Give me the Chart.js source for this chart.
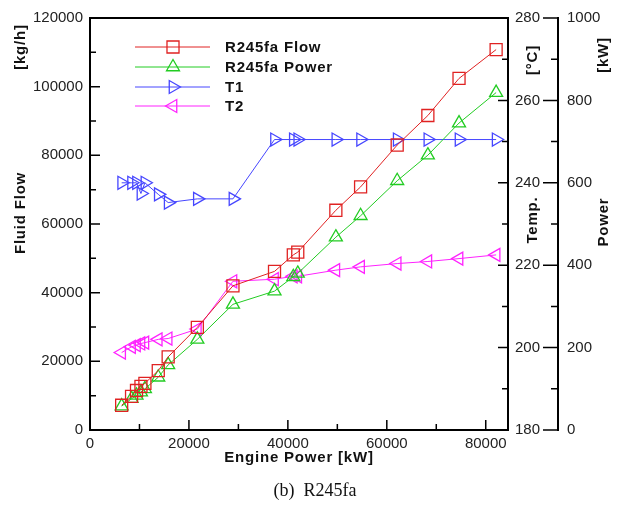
<!DOCTYPE html>
<html>
<head>
<meta charset="utf-8">
<script src="https://cdn.jsdelivr.net/npm/chart.js@4.4.1/dist/chart.umd.min.js"></script>
<style>
  html, body { margin: 0; padding: 0; background: #fff; }
  #wrap { width: 624px; height: 508px; position: relative; }
</style>
</head>
<body>
<div id="wrap"><canvas id="c"></canvas></div>
<script>
const SANS = "'Liberation Sans', Arial, sans-serif";
const SERIF = "'Liberation Serif', 'Times New Roman', serif";

// engine power [kW], shared by all four series
const enginePower = [6400, 8400, 9400, 10300, 11100, 13800, 15800, 21700, 28900, 37300, 41100, 42000, 49700, 54700, 62100, 68300, 74600, 82100];
const r245Flow = [7200, 9800, 11500, 12700, 13600, 17300, 21300, 29900, 42000, 46200, 51000, 51800, 64000, 70800, 83000, 91600, 102400, 110800];
const r245Power = [58, 76, 84, 92, 100, 128, 158, 220, 305, 337, 372, 380, 468, 520, 605, 667, 745, 819];
const t1 = [240, 240, 240, 237.4, 240, 237.2, 235.2, 236.1, 236.1, 250.5, 250.5, 250.5, 250.5, 250.5, 250.5, 250.5, 250.5, 250.5];
const t2 = [198.8, 200.2, 200.6, 201, 201.2, 202, 202.2, 204.5, 216.1, 216.6, 217.3, 217.3, 218.8, 219.6, 220.4, 220.9, 221.6, 222.5];

const xTicks = [0, 20000, 40000, 60000, 80000];
const flowTicks = [0, 20000, 40000, 60000, 80000, 100000, 120000];
const tempTicks = [180, 200, 220, 240, 260, 280];
const powerTicks = [0, 200, 400, 600, 800, 1000];

const COLORS = { flow: '#e02222', power: '#22cc22', t1: '#4646ff', t2: '#ff22ff' };

const pts = (ys) => enginePower.map((x, i) => ({ x, y: ys[i] }));

const series = [
  { label: 'R245fa Flow', data: r245Flow, color: COLORS.flow, style: 'rect', rot: 0, r: 8.5, axis: 'y' },
  { label: 'R245fa Power', data: r245Power, color: COLORS.power, style: 'triangle', rot: 0, r: 7.5, axis: 'y2' },
  { label: 'T1', data: t1, color: COLORS.t1, style: 'triangle', rot: 90, r: 7.5, axis: 'y1' },
  { label: 'T2', data: t2, color: COLORS.t2, style: 'triangle', rot: 270, r: 7.5, axis: 'y1' },
];

const setTicks = (list) => (s) => { s.ticks = list.map((v) => ({ value: v })); };

function range(a, b, step) {
  const out = [];
  for (let v = a; v <= b + 1e-9; v += step) out.push(v);
  return out;
}

const deco = {
  id: 'deco',
  afterDraw(chart) {
    const { ctx, chartArea: a, scales } = chart;
    ctx.save();
    ctx.strokeStyle = '#000';
    ctx.lineWidth = 2;
    ctx.beginPath();
    ctx.moveTo(a.left - 1, a.top);
    ctx.lineTo(a.right + 1, a.top);
    ctx.stroke();

    ctx.lineWidth = 1.5;
    ctx.beginPath();
    // bottom axis, inward
    range(0, 80000, 10000).forEach((v) => {
      const px = scales.x.getPixelForValue(v);
      const len = v % 20000 === 0 ? 10 : 6;
      ctx.moveTo(px, a.bottom);
      ctx.lineTo(px, a.bottom - len);
    });
    // left axis, inward
    range(0, 120000, 10000).forEach((v) => {
      const py = scales.y.getPixelForValue(v);
      const len = v % 20000 === 0 ? 10 : 6;
      ctx.moveTo(a.left, py);
      ctx.lineTo(a.left + len, py);
    });
    // temp axis, inward
    range(180, 280, 10).forEach((v) => {
      const py = scales.y1.getPixelForValue(v);
      const len = v % 20 === 0 ? 10 : 6;
      ctx.moveTo(a.right, py);
      ctx.lineTo(a.right - len, py);
    });
    // power axis, pointing left
    const x2 = scales.y2.left;
    range(0, 1000, 100).forEach((v) => {
      const py = scales.y2.getPixelForValue(v);
      const len = v % 200 === 0 ? 15 : 7;
      ctx.moveTo(x2, py);
      ctx.lineTo(x2 - len, py);
    });
    ctx.stroke();

    const bold = `bold 15px ${SANS}`;
    ctx.letterSpacing = '0.8px';

    // legend
    const rows = [47, 67, 87, 106];
    series.forEach((s, i) => {
      const y = rows[i];
      ctx.strokeStyle = s.color;
      ctx.lineWidth = 1;
      ctx.beginPath();
      ctx.moveTo(135, y);
      ctx.lineTo(210, y);
      ctx.stroke();
      ctx.lineWidth = 1.3;
      ctx.fillStyle = 'rgba(0,0,0,0)';
      Chart.helpers.drawPoint(ctx, { pointStyle: s.style, radius: s.r, rotation: s.rot, borderWidth: 1.3 }, 173, y);
      ctx.fillStyle = '#111';
      ctx.font = bold;
      ctx.textAlign = 'left';
      ctx.textBaseline = 'middle';
      ctx.fillText(s.label, 225, y + 1);
    });

    // axis titles
    const vtext = (txt, x, y) => {
      ctx.save();
      ctx.translate(x, y);
      ctx.rotate(-Math.PI / 2);
      ctx.font = bold;
      ctx.fillStyle = '#111';
      ctx.textAlign = 'center';
      ctx.textBaseline = 'middle';
      ctx.fillText(txt, 0, 0);
      ctx.restore();
    };
    vtext('Fluid Flow', 21, 213);
    vtext('[kg/h]', 21, 47);
    vtext('Temp.', 533, 220);
    vtext('[°C]', 533, 60);
    vtext('Power', 604, 222);
    vtext('[kW]', 604, 55);

    ctx.fillStyle = '#111';
    ctx.textAlign = 'center';
    ctx.textBaseline = 'middle';
    ctx.font = bold;
    ctx.fillText('Engine Power [kW]', (a.left + a.right) / 2, 458);
    ctx.letterSpacing = '0px';
    ctx.font = `18px ${SERIF}`;
    ctx.fillText('(b)  R245fa', 315, 491);
    ctx.restore();
  },
};

const tickFont = { family: SANS, size: 15 };

new Chart(document.getElementById('c'), {
  type: 'line',
  data: {
    datasets: series.map((s) => ({
      label: s.label,
      data: pts(s.data),
      yAxisID: s.axis,
      borderColor: s.color,
      backgroundColor: 'rgba(0,0,0,0)',
      borderWidth: 1,
      tension: 0,
      pointStyle: s.style,
      pointRotation: s.rot,
      pointRadius: s.r,
      pointBorderWidth: 1.3,
      pointBorderColor: s.color,
      pointBackgroundColor: 'rgba(0,0,0,0)',
      clip: false,
    })),
  },
  options: {
    responsive: true,
    maintainAspectRatio: false,
    animation: false,
    layout: { padding: { top: 13, left: 0, right: 0, bottom: 0 } },
    plugins: { legend: { display: false }, tooltip: { enabled: false } },
    scales: {
      x: {
        type: 'linear',
        position: 'bottom',
        min: 0,
        max: 84500,
        afterBuildTicks: setTicks(xTicks),
        afterFit: (s) => { s.height = 78; },
        grid: { display: false, drawTicks: false },
        border: { display: true, color: '#000', width: 2 },
        ticks: { font: tickFont, color: '#222', padding: 5, maxRotation: 0, callback: (v) => String(v) },
      },
      y: {
        position: 'left',
        min: 0,
        max: 120000,
        afterBuildTicks: setTicks(flowTicks),
        afterFit: (s) => { s.width = 90; },
        grid: { display: false, drawTicks: false },
        border: { display: true, color: '#000', width: 2 },
        ticks: { font: tickFont, color: '#222', padding: 7, callback: (v) => String(v) },
      },
      y1: {
        position: 'right',
        weight: 0,
        min: 180,
        max: 280,
        afterBuildTicks: setTicks(tempTicks),
        afterFit: (s) => { s.width = 50; },
        grid: { display: false, drawTicks: false },
        border: { display: true, color: '#000', width: 2 },
        ticks: { font: tickFont, color: '#222', padding: 7, callback: (v) => String(v) },
      },
      y2: {
        position: 'right',
        weight: 1,
        min: 0,
        max: 1000,
        afterBuildTicks: setTicks(powerTicks),
        afterFit: (s) => { s.width = 66; },
        grid: { display: false, drawTicks: false },
        border: { display: true, color: '#000', width: 2 },
        ticks: { font: tickFont, color: '#222', padding: 9, callback: (v) => String(v) },
      },
    },
  },
  plugins: [deco],
});
</script>
</body>
</html>
